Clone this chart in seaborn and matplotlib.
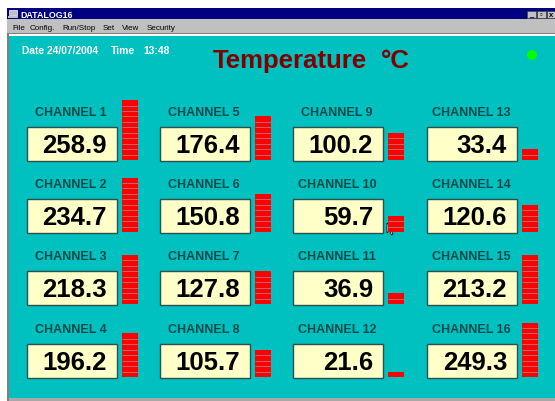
import math
import numpy as np
import matplotlib
matplotlib.use("Agg")
import matplotlib.pyplot as plt
from matplotlib.patches import Rectangle, Circle, Polygon
import seaborn as sns

# ---------------- data ----------------
channels = [f"CHANNEL {i}" for i in range(1, 17)]
values = [258.9, 234.7, 218.3, 196.2,
          176.4, 150.8, 127.8, 105.7,
          100.2, 59.7, 36.9, 21.6,
          33.4, 120.6, 213.2, 249.3]
seg_units = 25.0          # degrees per meter segment
meter_max_segments = 12
title_text = "Temperature"
unit_text = "°C"
date_text = "Date 24/07/2004"
time_label = "Time"
time_text = "13:48"
app_name = "DATALOG16"
menu_items = ["File", "Config.", "Run/Stop", "Set", "View", "Security"]

# ---------------- style ----------------
sns.set_theme(style="white")
plt.rcParams["font.family"] = ["Liberation Sans", "DejaVu Sans"]

W, H = 555, 402
fig = plt.figure(figsize=(W / 100, H / 100), dpi=100)
fig.patch.set_facecolor("white")
ax = fig.add_axes([0, 0, 1, 1])
ax.set_xlim(0, W)
ax.set_ylim(H, 0)
ax.axis("off")

CYAN = "#00C0C0"
NAVY = "#000080"
GRAY = "#C0C0C0"

# window chrome
ax.add_patch(Rectangle((7, 9), W - 7, 11, facecolor=NAVY, edgecolor="none"))
ax.add_patch(Rectangle((7, 20), W - 7, 14, facecolor=GRAY, edgecolor="none"))
ax.add_patch(Rectangle((7, 33.5), W - 7, 1.2, facecolor="#808080", edgecolor="none"))
ax.add_patch(Rectangle((7, 34.7), W - 7, 2.3, facecolor="white", edgecolor="none"))
ax.add_patch(Rectangle((7, 35), 2, H - 35, facecolor="#808080", edgecolor="none"))
ax.add_patch(Rectangle((9, 37), W - 9, 362, facecolor=CYAN, edgecolor="none"))
ax.add_patch(Rectangle((9, 399), W - 9, 3, facecolor="#A8A8A8", edgecolor="none"))

# title bar icon and text
ax.add_patch(Rectangle((9, 11), 8, 5, facecolor="#C0C0C0", edgecolor="white", lw=0.5))
ax.add_patch(Rectangle((8, 16.5), 10, 2, facecolor="#C0C0C0", edgecolor="none"))
ax.text(20, 15, app_name, color="white", fontsize=6.4, fontweight="bold",
        va="center", ha="left")
# window buttons
for bx, glyph in [(527, "_"), (537, "▫"), (547, "x")]:
    ax.add_patch(Rectangle((bx, 11.5), 8.5, 7.5, facecolor=GRAY,
                           edgecolor="#404040", lw=0.5))
    ax.text(bx + 4.25, 15.5, glyph, color="black", fontsize=5.5,
            fontweight="bold", ha="center", va="center")

# menu
menu_x = [12, 30, 62, 103, 122, 147]
for mx, item in zip(menu_x, menu_items):
    ax.text(mx, 28, item, color="black", fontsize=5.8, va="center", ha="left")

# header texts
ax.text(22, 50.5, date_text, color="white", fontsize=7.4, fontweight="bold",
        va="center", ha="left")
ax.text(111, 50.5, time_label, color="white", fontsize=7.4, fontweight="bold",
        va="center", ha="left")
ax.text(143, 50.5, time_text, color="white", fontsize=7.4, fontweight="bold",
        va="center", ha="left")
ax.text(213, 68, title_text, color="#800000", fontsize=18.5, fontweight="bold",
        va="baseline", ha="left")
ax.text(381, 68, unit_text, color="#800000", fontsize=18.5, fontweight="bold",
        va="baseline", ha="left")
ax.add_patch(Circle((532, 56), 5, facecolor="#00FF00", edgecolor="none"))

# channel panels
col_left = [27, 160, 293, 427]
row_top = [128, 200, 272, 345]
box_w, box_h = 90, 33.5
seg_px = 5.45

for i, (name, val) in enumerate(zip(channels, values)):
    c, r = i // 4, i % 4
    x0, y0 = col_left[c], row_top[r]
    ax.add_patch(Rectangle((x0, y0), box_w, box_h, facecolor="#FFFFC8",
                           edgecolor="#2F4F4F", lw=1.0))
    ax.text(x0 + box_w - 10, y0 + box_h / 2 + 1, f"{val:.1f}", color="black",
            fontsize=18.5, fontweight="bold", ha="right", va="center")
    ax.text(x0 + box_w / 2 - 1, y0 - 14.5, name, color="#004A4A",
            fontsize=9, fontweight="bold", ha="center", va="center")

    # level meter drawn with seaborn in its own axes
    n = math.ceil(val / seg_units)
    mx0 = x0 + box_w + 5
    mbottom = y0 + box_h - 0.5
    mh = meter_max_segments * seg_px
    m = fig.add_axes([mx0 / W, 1 - mbottom / H, 16 / W, mh / H])
    sns.barplot(x=[0], y=[n * seg_units], color="#FF0000", saturation=1,
                width=1, ax=m, linewidth=0)
    m.hlines(np.arange(1, n) * seg_units, -0.5, 0.5, color="#C06868", lw=0.7)
    m.set_xlim(-0.5, 0.5)
    m.set_ylim(0, meter_max_segments * seg_units)
    m.axis("off")
    m.patch.set_alpha(0)

# mouse pointer
ax.add_patch(Polygon([(387, 224), (387, 234), (389.5, 231.5), (391.5, 236),
                      (393, 235.3), (391, 231), (394.5, 231)],
                     closed=True, facecolor="white", edgecolor="black", lw=0.6))

fig.savefig("out.png", dpi=100, facecolor=fig.get_facecolor())
